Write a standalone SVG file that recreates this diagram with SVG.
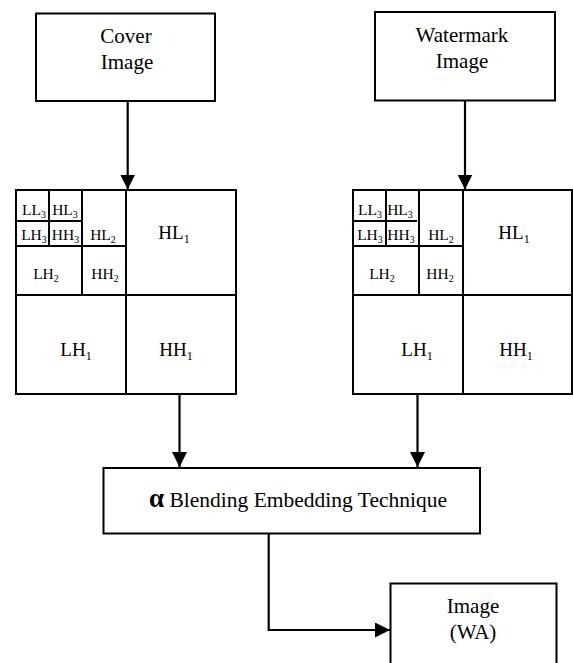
<svg xmlns="http://www.w3.org/2000/svg" width="573" height="663" viewBox="0 0 573 663">
<style>
.box{fill:#fff;stroke:#000;stroke-width:2}
.grid{fill:none;stroke:#000;stroke-width:2}
.t{font-family:"Liberation Serif","Times New Roman",serif;fill:#000;text-anchor:middle}
.l1{font-size:19px}
.l2{font-size:15.5px}
.big{font-size:21px}
.con{fill:none;stroke:#000;stroke-width:2.2}
</style>
<defs>
<marker id="ah" markerUnits="userSpaceOnUse" markerWidth="16" markerHeight="16" refX="15" refY="7.5" orient="auto">
<path d="M0,0 L15,7.5 L0,15 z" fill="#000"/>
</marker>
</defs>
<rect width="573" height="663" fill="#fff"/>
<g id="cover">
<rect class="box" x="36" y="13.5" width="179" height="87.5"/>
<text class="t big" x="126" y="43">Cover</text>
<text class="t big" x="127" y="69">Image</text>
</g>
<g id="watermark">
<rect class="box" x="375" y="12" width="180" height="88.5"/>
<text class="t big" x="462" y="41.5">Watermark</text>
<text class="t big" x="462" y="67.5">Image</text>
</g>
<g id="dwt-cover">
<rect class="grid" x="16" y="190" width="220" height="204"/>
<path class="grid" d="M126,190V394M16,295H236M82,190V295M16,246H126M49,190V246M16,221H82"/>
<text class="t l1" x="174" y="239">HL<tspan font-size="12" dy="4">1</tspan></text>
<text class="t l1" x="76" y="356">LH<tspan font-size="12" dy="4">1</tspan></text>
<text class="t l1" x="176" y="356">HH<tspan font-size="12" dy="4">1</tspan></text>
<text class="t l2" x="103" y="240">HL<tspan font-size="10" dy="3">2</tspan></text>
<text class="t l2" x="46" y="279">LH<tspan font-size="10" dy="3">2</tspan></text>
<text class="t l2" x="105" y="279">HH<tspan font-size="10" dy="3">2</tspan></text>
<text class="t l2" x="34" y="215">LL<tspan font-size="10" dy="3">3</tspan></text>
<text class="t l2" x="65" y="215">HL<tspan font-size="10" dy="3">3</tspan></text>
<text class="t l2" x="34" y="240">LH<tspan font-size="10" dy="3">3</tspan></text>
<text class="t l2" x="65.5" y="240">HH<tspan font-size="10" dy="3">3</tspan></text>
</g>
<g id="dwt-watermark" transform="translate(337,0)">
<rect class="grid" x="16" y="190" width="219" height="204"/>
<path class="grid" d="M126,190V394M16,295H235M82,190V295M16,246H126M49,190V246M16,221H80"/>
<text class="t l1" x="177" y="239">HL<tspan font-size="12" dy="4">1</tspan></text>
<text class="t l1" x="80" y="356">LH<tspan font-size="12" dy="4">1</tspan></text>
<text class="t l1" x="179" y="356">HH<tspan font-size="12" dy="4">1</tspan></text>
<text class="t l2" x="104" y="240">HL<tspan font-size="10" dy="3">2</tspan></text>
<text class="t l2" x="45" y="279">LH<tspan font-size="10" dy="3">2</tspan></text>
<text class="t l2" x="103" y="279">HH<tspan font-size="10" dy="3">2</tspan></text>
<text class="t l2" x="33" y="215">LL<tspan font-size="10" dy="3">3</tspan></text>
<text class="t l2" x="63" y="215">HL<tspan font-size="10" dy="3">3</tspan></text>
<text class="t l2" x="33" y="240">LH<tspan font-size="10" dy="3">3</tspan></text>
<text class="t l2" x="64" y="240">HH<tspan font-size="10" dy="3">3</tspan></text>
</g>
<g id="blending">
<rect class="box" x="103.5" y="468" width="376.5" height="65.5"/>
<text class="t" font-size="21.5" x="298" y="507"><tspan font-size="27" font-weight="bold" font-family="Liberation Serif,serif">α</tspan> Blending Embedding Technique</text>
</g>
<g id="output">
<rect class="box" x="390.5" y="583.5" width="166" height="100"/>
<text class="t big" x="473" y="613">Image</text>
<text class="t big" x="473" y="639">(WA)</text>
</g>
<g id="connectors">
<path class="con" d="M127.7,101V189.5" marker-end="url(#ah)"/>
<path class="con" d="M465,100.5V189.5" marker-end="url(#ah)"/>
<path class="con" d="M179.5,394V467" marker-end="url(#ah)"/>
<path class="con" d="M417.5,394V467" marker-end="url(#ah)"/>
<path class="con" d="M268.7,533.5V630H390" marker-end="url(#ah)"/>
</g>
</svg>
